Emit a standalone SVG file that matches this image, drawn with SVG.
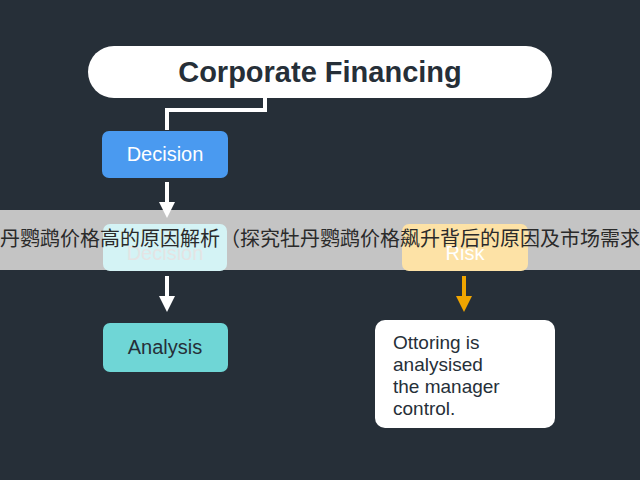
<svg xmlns="http://www.w3.org/2000/svg" width="640" height="480" viewBox="0 0 640 480">
<defs>
<style>
.lbl{font-family:"Liberation Sans","Noto Sans",sans-serif;font-size:20px;text-anchor:middle}
.ln{stroke:#fff;stroke-width:4;fill:none}
</style>
<marker id="aw" markerWidth="4" markerHeight="4" refX="2" refY="2" orient="auto" markerUnits="strokeWidth"><path d="M0,0L4,2L0,4z" fill="#fff"/></marker>
<marker id="ao" markerWidth="4" markerHeight="4" refX="2" refY="2" orient="auto" markerUnits="strokeWidth"><path d="M0,0L4,2L0,4z" fill="#f0a500"/></marker>
</defs>
<rect width="640" height="480" fill="#262f38"/>
<rect x="0" y="210" width="640" height="60" fill="#c4c4c4"/>
<g id="connectors">
<path class="ln" d="M265,98V110H167V130"/>
<line class="ln" x1="167" y1="182" x2="167" y2="210" marker-end="url(#aw)"/>
<line class="ln" x1="167" y1="276" x2="167" y2="304" marker-end="url(#aw)"/>
<line x1="464" y1="276" x2="464" y2="304" stroke="#f0a500" stroke-width="4" marker-end="url(#ao)"/>
</g>
<g id="title"><rect x="88" y="46" width="464" height="52" rx="26" fill="#fff"/><text x="320" y="82" class="lbl" style="font-size:29px;font-weight:bold;fill:#262f38">Corporate Financing</text></g>
<g id="decision1"><rect x="102" y="131" width="126" height="47" rx="7" fill="#4a9af0"/><text x="165" y="161" class="lbl" fill="#fff">Decision</text></g>
<g id="decision2"><rect x="103" y="224" width="124" height="47" rx="7" fill="#d4f3f5"/><text x="165" y="260" class="lbl" fill="#e4e4e4">Decision</text></g>
<g id="analysis"><rect x="103" y="323" width="125" height="49" rx="7" fill="#6fd6d6"/><text x="165" y="354" class="lbl" fill="#262f38">Analysis</text></g>
<g id="risk"><rect x="402" y="224" width="126" height="47" rx="7" fill="#fde2a6"/><text x="465" y="260" class="lbl" fill="#fff">Risk</text></g>
<g id="note"><rect x="375" y="320" width="180" height="108" rx="10" fill="#fff"/>
<text style="font-family:'Liberation Sans',sans-serif;font-size:19px" fill="#262f38"><tspan x="393" y="349">Ottoring is</tspan><tspan x="393" y="371">analysised</tspan><tspan x="393" y="393">the manager</tspan><tspan x="393" y="415">control.</tspan></text></g>
<text x="0" y="246" textLength="640" lengthAdjust="spacingAndGlyphs" style="font-family:'Noto Sans CJK SC',sans-serif;font-size:20px" fill="#2a2a2a">丹鹦鹉价格高的原因解析（探究牡丹鹦鹉价格飙升背后的原因及市场需求</text>
</svg>
